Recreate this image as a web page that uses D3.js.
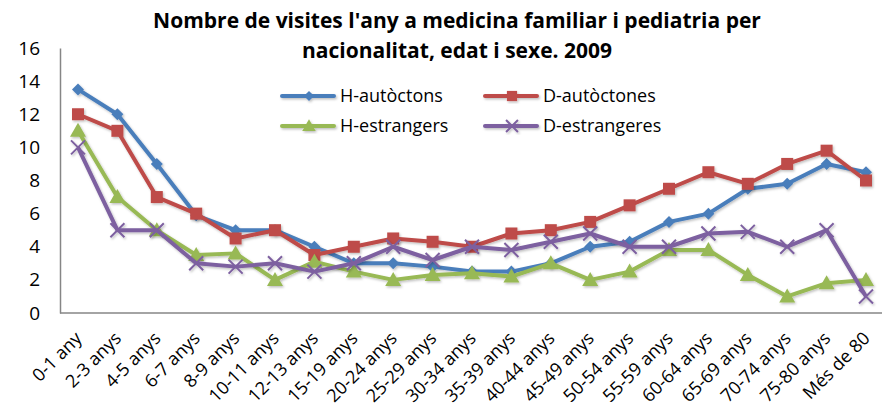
<!DOCTYPE html>
<html><head><meta charset="utf-8">
<script src="https://cdn.jsdelivr.net/npm/d3@7"></script>
<style>body{margin:0;background:#fff}svg{display:block}</style>
</head><body>
<div id="chart"></div>
<script>
const categories = ["0-1 any","2-3 anys","4-5 anys","6-7 anys","8-9 anys","10-11 anys","12-13 anys","15-19 anys","20-24 anys","25-29 anys","30-34 anys","35-39 anys","40-44 anys","45-49 anys","50-54 anys","55-59 anys","60-64 anys","65-69 anys","70-74 anys","75-80 anys","Més de 80"];
const hAutoctons   = [13.5,12,9,5.9,5,5,4,3,3,2.8,2.5,2.5,3,4,4.3,5.5,6,7.5,7.8,9,8.5];
const dAutoctones  = [12,11,7,6,4.5,5,3.5,4,4.5,4.3,4,4.8,5,5.5,6.5,7.5,8.5,7.8,9,9.8,8];
const hEstrangers  = [11,7,5,3.5,3.6,2,3.1,2.5,2,2.3,2.4,2.2,3,2,2.5,3.8,3.8,2.3,1,1.8,2];
const dEstrangeres = [10,5,5,3,2.8,3,2.5,3,4,3.2,4,3.8,4.3,4.8,4,4,4.8,4.9,4,5,1];
const yTicks = [0,2,4,6,8,10,12,14,16];
const titleLines = ["Nombre de visites l'any a medicina familiar i pediatria per","nacionalitat, edat i sexe. 2009"];

const series = [
  {name:"H-autòctons", values:hAutoctons, color:"#4A7EBB", marker:"diamond"},
  {name:"D-autòctones", values:dAutoctones, color:"#BE4B48", marker:"square"},
  {name:"H-estrangers", values:hEstrangers, color:"#98B954", marker:"triangle"},
  {name:"D-estrangeres", values:dEstrangeres, color:"#7D60A0", marker:"x"}
];

const W=882,H=405;
const svg=d3.select("#chart").append("svg").attr("width",W).attr("height",H);
const font="'Open Sans', sans-serif";

const x=d3.scalePoint().domain(categories).range([78,866]);
const y=d3.scaleLinear().domain([0,16]).range([313,48]);

// title
svg.append("g").selectAll("text").data(titleLines).join("text")
  .attr("x",457).attr("y",(d,i)=>28+i*30)
  .attr("text-anchor","middle").attr("font-family",font)
  .attr("font-weight","bold").attr("font-size",21).attr("fill","#000").text(d=>d);

// axes
const axisColor="#868686";
const yAxis=svg.append("g").attr("transform","translate(60,0)")
  .call(d3.axisLeft(y).tickValues(yTicks).tickSize(0).tickPadding(20));
yAxis.select(".domain").attr("stroke",axisColor).attr("stroke-width",1.5);
yAxis.selectAll("text").attr("font-family",font).attr("font-size",19).attr("fill","#000");

const xAxis=svg.append("g").attr("transform","translate(0,313)")
  .call(d3.axisBottom(x).tickSize(0).tickPadding(0));
xAxis.select(".domain").attr("stroke",axisColor).attr("stroke-width",1.5).attr("d","M60,0H882");
xAxis.selectAll("text").attr("font-family",font).attr("font-size",18).attr("fill","#000")
  .attr("text-anchor","end").attr("dy","0.35em")
  .attr("transform","translate(0,22) rotate(-45)");

// shadow filter
const defs=svg.append("defs");
const f=defs.append("filter").attr("id","sh").attr("x","-20%").attr("y","-20%").attr("width","140%").attr("height","140%");
f.append("feDropShadow").attr("dx",1.2).attr("dy",1.5).attr("stdDeviation",1).attr("flood-color","#000").attr("flood-opacity",0.25);

function drawMarker(g,type,color,cx,cy,s){
  s=s||1;
  if(type==="diamond"){
    g.append("path").attr("d",`M${cx},${cy-6*s}L${cx+6*s},${cy}L${cx},${cy+6*s}L${cx-6*s},${cy}Z`).attr("fill",color);
  } else if(type==="square"){
    g.append("rect").attr("x",cx-6*s).attr("y",cy-6*s).attr("width",12*s).attr("height",12*s).attr("fill",color);
  } else if(type==="triangle"){
    g.append("path").attr("d",`M${cx},${cy-8*s}L${cx+8*s},${cy+6*s}L${cx-8*s},${cy+6*s}Z`).attr("fill",color);
  } else {
    g.append("path").attr("d",`M${cx-7*s},${cy-7*s}L${cx+7*s},${cy+7*s}M${cx+7*s},${cy-7*s}L${cx-7*s},${cy+7*s}`)
      .attr("stroke",color).attr("stroke-width",2).attr("fill","none");
  }
}

const line=d3.line().x((d,i)=>x(categories[i])).y(d=>y(d));
series.forEach(s=>{
  const g=svg.append("g").attr("filter","url(#sh)");
  g.append("path").datum(s.values).attr("d",line).attr("fill","none")
    .attr("stroke",s.color).attr("stroke-width",4).attr("stroke-linejoin","round");
  s.values.forEach((v,i)=>drawMarker(g,s.marker,s.color,x(categories[i]),y(v)));
});

// legend
const legPos=[[282,96],[485,96],[282,126],[485,126]];
series.forEach((s,i)=>{
  const [lx,ly]=legPos[i];
  const g=svg.append("g").attr("filter","url(#sh)");
  g.append("line").attr("x1",lx).attr("x2",lx+52).attr("y1",ly).attr("y2",ly)
    .attr("stroke",s.color).attr("stroke-width",4).attr("stroke-linecap","round");
  drawMarker(g,s.marker,s.color,lx+27,ly,0.85);
  svg.append("text").attr("x",lx+58).attr("y",ly).attr("dy","0.35em")
    .attr("font-family",font).attr("font-size",18).attr("fill","#000").text(s.name);
});
</script>
</body></html>
